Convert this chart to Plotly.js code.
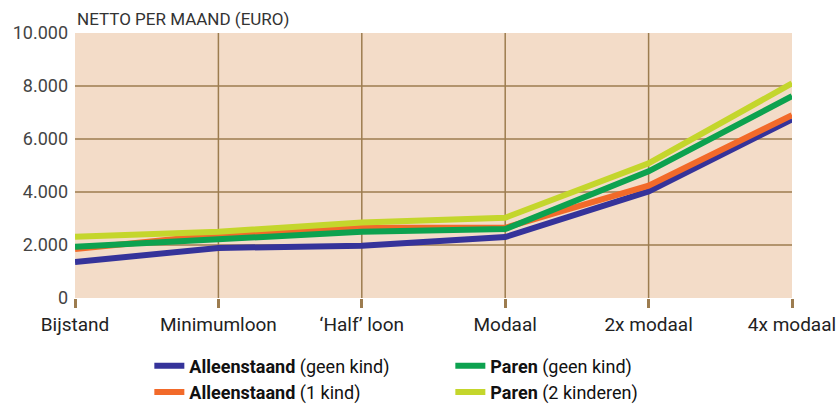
<!DOCTYPE html>
<html><head><meta charset="utf-8">
<script src="https://cdn.plot.ly/plotly-3.0.1.min.js"></script>
<style>html,body{margin:0;padding:0;background:#fff}#chart{width:839px;height:405px}</style>
</head><body><div id="chart"></div>
<script>
const categories = ["Bijstand", "Minimumloon", "\u2018Half\u2019 loon", "Modaal", "2x modaal", "4x modaal"];
const alleenGeenKind = [1360, 1890, 1970, 2300, 4020, 6740];
const alleenEenKind  = [1850, 2390, 2650, 2650, 4240, 6900];
const parenGeenKind  = [1930, 2200, 2500, 2600, 4780, 7620];
const parenTweeKind  = [2310, 2500, 2850, 3030, 5080, 8100];
const seriesNames = [
  "<b>Alleenstaand</b> (geen kind)",
  "<b>Alleenstaand</b> (1 kind)",
  "<b>Paren</b> (geen kind)",
  "<b>Paren</b> (2 kinderen)"
];
const yTicks = [0, 2000, 4000, 6000, 8000, 10000];
const axisTitle = "NETTO PER MAAND (EURO)";

const colors = ["#35339a", "#f26a2a", "#0da24f", "#c4d62c"];
const ranks = [1, 3, 2, 4];
const gridColor = "#9c7c4f";
const data = [alleenGeenKind, alleenEenKind, parenGeenKind, parenTweeKind].map((ys, i) => ({
  type: "scatter", mode: "lines", x: categories, y: ys, name: seriesNames[i],
  line: {color: colors[i], width: 6}, legendrank: ranks[i]
}));

// interior gridlines only (the reference has no lines on the plot edges)
const shapes = [];
categories.slice(1, -1).forEach(c => shapes.push({
  type: "line", xref: "x", yref: "paper", x0: c, x1: c, y0: 0, y1: 1, layer: "below",
  line: {color: gridColor, width: 1.5}
}));
yTicks.slice(1, -1).forEach(v => shapes.push({
  type: "line", xref: "paper", yref: "y", x0: 0, x1: 1, y0: v, y1: v, layer: "below",
  line: {color: gridColor, width: 1.5}
}));

const layout = {
  width: 839, height: 405,
  margin: {l: 75, r: 47, t: 33, b: 107},
  paper_bgcolor: "#ffffff", plot_bgcolor: "#f3dcc8",
  separators: ",.",
  font: {family: "Roboto, 'DejaVu Sans', sans-serif", color: "#333"},
  xaxis: {
    type: "category", range: [0, 5], showgrid: false,
    ticks: "outside", ticklen: 9, tickwidth: 3, tickcolor: gridColor,
    tickfont: {size: 19, color: "#222"}, zeroline: false, showline: false, fixedrange: true
  },
  yaxis: {
    range: [0, 10000], tickvals: yTicks, tickformat: ",d", showgrid: false,
    zeroline: false, showline: false,
    tickfont: {size: 18, color: "#444"}, ticks: "", ticklabelstandoff: 6
  },
  shapes: shapes,
  showlegend: true,
  legend: {
    orientation: "h", xref: "container", yref: "container", x: 0.178, y: 0.142,
    xanchor: "left", yanchor: "top", entrywidth: 256, entrywidthmode: "pixels",
    font: {size: 18, color: "#111"}, bgcolor: "rgba(0,0,0,0)", tracegroupgap: 0
  },
  annotations: [{
    text: axisTitle, xref: "paper", yref: "paper", x: 0, y: 1, xanchor: "left", yanchor: "bottom",
    yshift: 2, showarrow: false, font: {size: 17, color: "#333"}
  }]
};
Plotly.newPlot("chart", data, layout, {displayModeBar: false, staticPlot: true});
</script></body></html>
